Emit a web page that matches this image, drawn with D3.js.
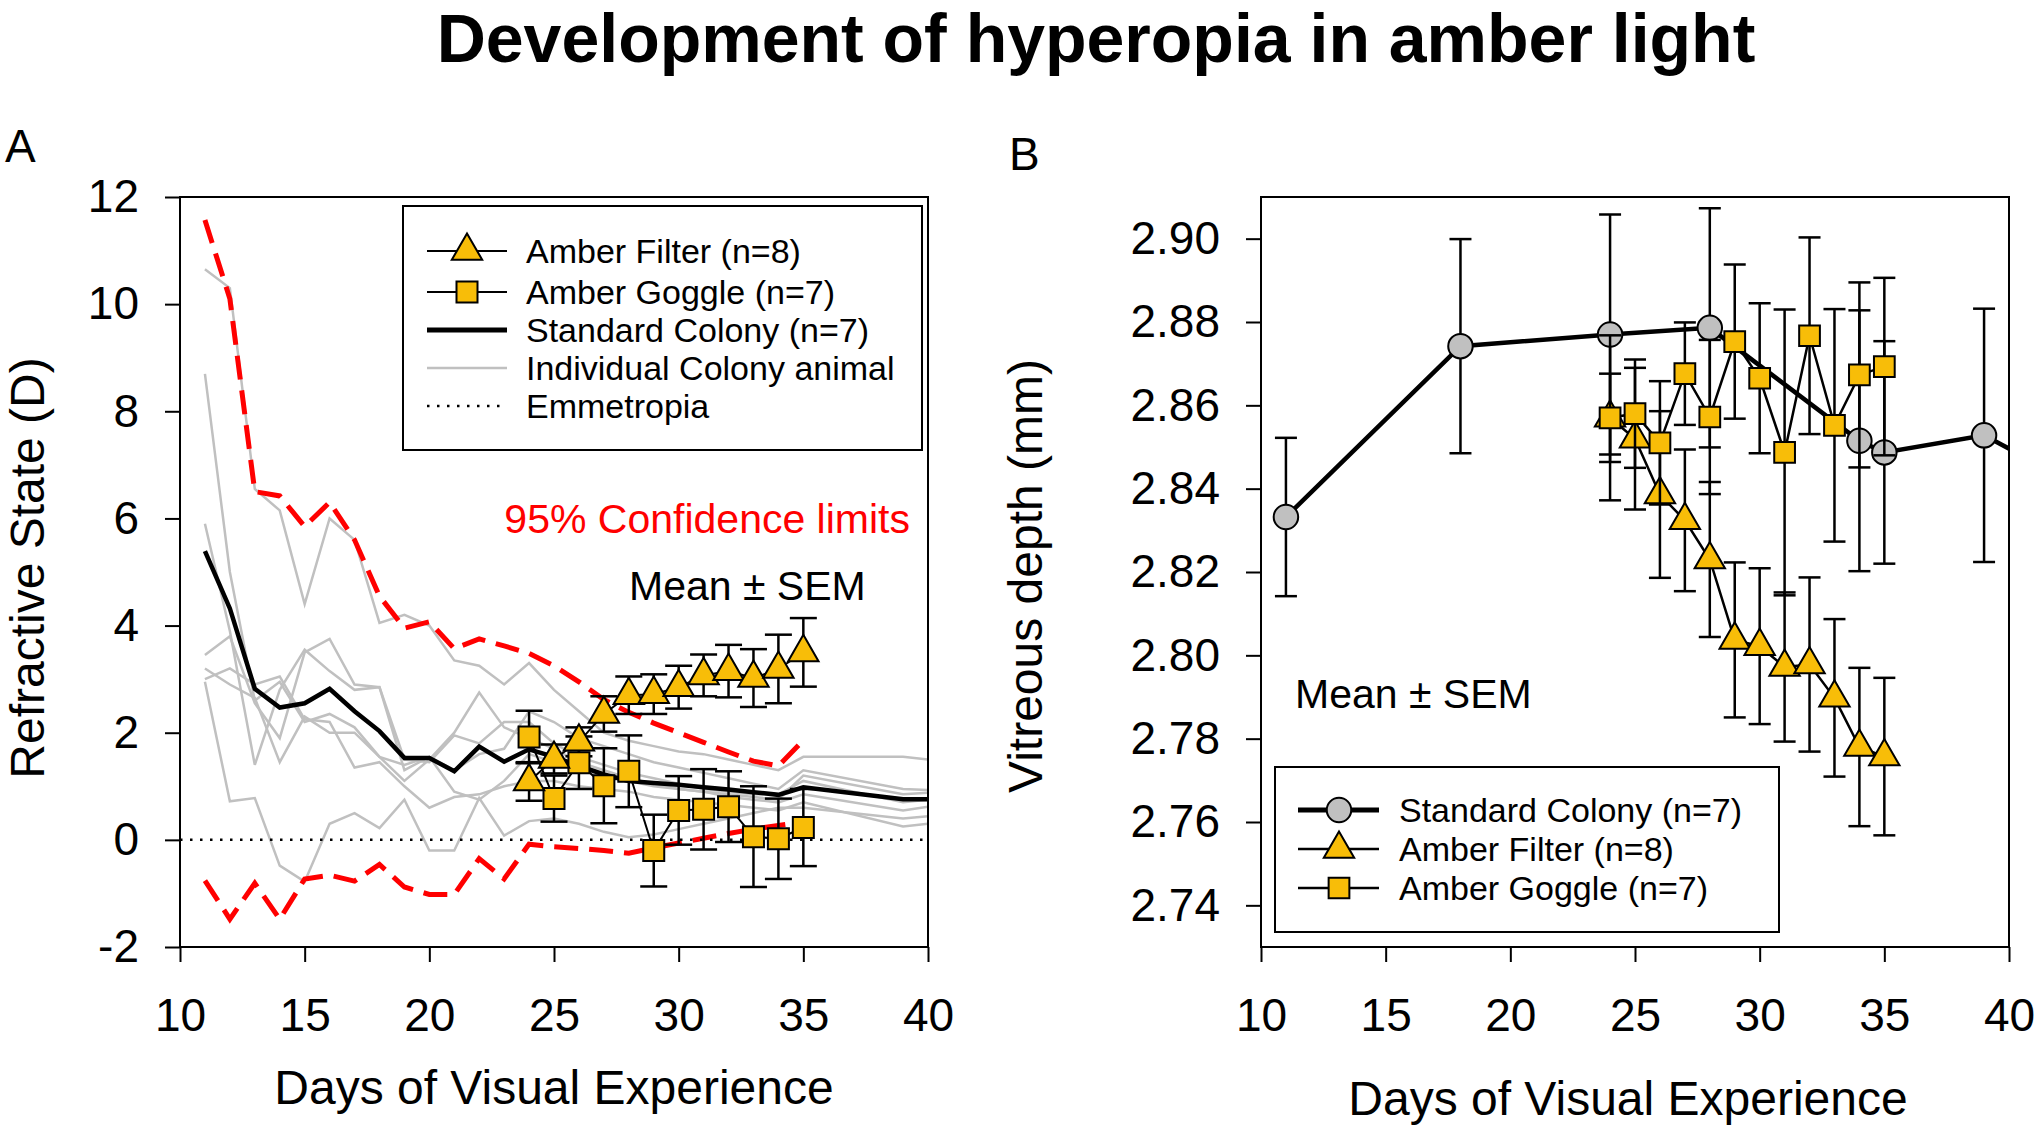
<!DOCTYPE html>
<html><head><meta charset="utf-8">
<script src="https://cdn.jsdelivr.net/npm/d3@7"></script>
<style>
html,body{margin:0;padding:0;background:#fff;}
svg{display:block;font-family:"Liberation Sans",Arial,Helvetica,sans-serif;}
</style></head><body>
<svg id="chart" width="2040" height="1129"></svg>
<script>
// ---------------- DATA ----------------
const titleText = "Development of hyperopia in amber light";
const xTicks = [10, 15, 20, 25, 30, 35, 40];
const yTicksA = [-2, 0, 2, 4, 6, 8, 10, 12];
const yTicksB = [2.74, 2.76, 2.78, 2.80, 2.82, 2.84, 2.86, 2.88, 2.90];

// Panel A: refractive state (D)
const colonyDaysA = [11,12,13,14,15,16,17,18,19,20,21,22,23,24,25,26,27,28,29,30,31,32,33,34,35,39,40];
const colonyMeanA = [5.39,4.32,2.82,2.47,2.55,2.82,2.40,2.03,1.53,1.53,1.28,1.74,1.46,1.69,1.55,1.38,1.22,1.10,1.06,1.03,0.98,0.94,0.89,0.84,0.98,0.76,0.76];
const animal1 = [10.65,10.30,6.55,6.15,4.40,6.00,5.60,4.05,4.20,4.00,3.35,3.25,2.90,3.30,2.80,2.40,2.00,1.85,1.75,1.65,1.60,1.50,1.40,1.30,1.55,1.55,1.50];
const animal2 = [8.70,5.00,2.60,2.95,2.20,2.35,2.10,1.55,1.40,1.55,1.30,1.60,1.70,2.40,2.20,1.90,1.75,1.60,1.45,1.35,1.25,1.15,1.05,0.95,1.30,0.95,0.93];
const animal3 = [5.90,3.90,1.40,2.80,3.55,3.15,2.80,2.85,1.30,1.55,0.90,0.75,1.10,1.60,1.45,1.30,1.20,1.10,1.00,0.95,0.90,0.85,0.80,0.75,1.20,0.85,0.88];
const animal4 = [3.45,3.80,2.55,1.90,3.50,3.75,2.90,2.85,1.50,1.45,1.95,1.80,2.20,2.20,1.80,1.55,1.40,1.25,1.15,1.05,0.95,0.90,0.85,0.85,1.10,0.70,0.75];
const animal5 = [3.20,2.90,2.65,1.45,2.30,2.00,2.00,1.55,1.10,1.50,2.00,2.75,2.10,1.90,1.70,1.45,1.30,1.15,1.05,0.95,0.90,0.80,0.75,0.70,0.85,0.55,0.62];
const animal6 = [2.95,0.72,0.78,-0.48,-0.78,0.30,0.50,0.22,0.75,-0.20,-0.20,0.78,0.08,0.35,0.40,0.30,0.15,0.05,0.10,0.20,0.30,0.40,0.50,0.60,0.60,0.40,0.44];
const animal7 = [3.00,3.20,2.90,3.05,2.25,2.20,1.35,1.45,1.00,0.60,0.80,0.85,1.00,1.10,1.10,1.00,0.95,0.90,0.80,0.75,0.70,0.65,0.60,0.55,0.70,0.25,0.30];

const limitDays = [11,12,13,14,15,16,17,18,19,20,21,22,23,24,25,26,27,28,29,30,31,32,33,34,35];
const upperLimit = [11.57,10.10,6.50,6.42,5.85,6.30,5.60,4.55,3.95,4.07,3.57,3.75,3.62,3.48,3.25,2.95,2.62,2.38,2.18,2.00,1.82,1.64,1.47,1.38,1.86];
const lowerLimit = [-0.76,-1.48,-0.81,-1.48,-0.73,-0.66,-0.77,-0.46,-0.88,-1.02,-1.02,-0.35,-0.73,-0.08,-0.13,-0.16,-0.20,-0.25,-0.15,-0.06,0.03,0.12,0.20,0.27,0.33];

const amberDays = [24,25,26,27,28,29,30,31,32,33,34,35];
const filterMeanA = [1.09,1.51,1.83,2.35,2.70,2.72,2.85,3.07,3.15,3.02,3.19,3.50];
const filterSemA  = [0.36,0.27,0.27,0.33,0.35,0.37,0.40,0.39,0.49,0.54,0.64,0.64];
const goggleMeanA = [1.92,0.77,1.44,1.01,1.28,-0.20,0.55,0.57,0.62,0.06,0.02,0.23];
const goggleSemA  = [0.49,0.43,0.49,0.70,0.67,0.67,0.64,0.75,0.66,0.94,0.75,0.72];

// Panel B: vitreous depth (mm)
const colonyDaysB = [11,18,24,28,34,35,39,41];
const colonyMeanB = [2.8332,2.8742,2.8770,2.8786,2.8515,2.8487,2.8528,2.8464];
const colonySemB  = [0.0190,0.0257,0.0288,0.0287,0.0313,0.0267,0.0304,0.0300];
const filterMeanB = [2.8570,2.8520,2.8386,2.8324,2.8230,2.8037,2.8022,2.7972,2.7978,2.7898,2.7780,2.7757];
const filterSemB  = [0.0106,0.0170,0.0200,0.0170,0.0186,0.0186,0.0187,0.0179,0.0209,0.0189,0.0190,0.0189];
const goggleMeanB = [2.8570,2.8580,2.8510,2.8676,2.8572,2.8753,2.8665,2.8487,2.8767,2.8552,2.8673,2.8693];
const goggleSemB  = [0.0198,0.0130,0.0148,0.0123,0.0185,0.0185,0.0180,0.0343,0.0236,0.0279,0.0222,0.0213];

const legendA = ["Amber Filter (n=8)","Amber Goggle (n=7)","Standard Colony (n=7)","Individual Colony animal","Emmetropia"];
const legendB = ["Standard Colony (n=7)","Amber Filter (n=8)","Amber Goggle (n=7)"];

// ---------------- DRAWING ----------------
const AMBER = "#f8bd08", GREY_FILL = "#c0c0c0", GREY_LINE = "#c0c0c0", RED = "#ff0000";
const svg = d3.select("#chart");
svg.append("rect").attr("width",2040).attr("height",1129).attr("fill","#fff");

const xA = d3.scaleLinear().domain([10,40]).range([180,928]);
const yA = d3.scaleLinear().domain([-2,12]).range([947,197]);
const xB = d3.scaleLinear().domain([10,40]).range([1261,2009]);
const yB = d3.scaleLinear().domain([2.73,2.91]).range([947,197]);

const defs = svg.append("defs");
function clip(id, x, y){
  defs.append("clipPath").attr("id",id).append("rect")
    .attr("x",x.range()[0]).attr("y",y.range()[1])
    .attr("width",x.range()[1]-x.range()[0]).attr("height",y.range()[0]-y.range()[1]);
}
clip("clipA", xA, yA); clip("clipB", xB, yB);

// Title
svg.append("text").attr("x",1096).attr("y",62).attr("text-anchor","middle")
  .attr("font-size",68).attr("font-weight","bold").text(titleText);
svg.append("text").attr("x",5).attr("y",162).attr("font-size",46).text("A");
svg.append("text").attr("x",1009).attr("y",170).attr("font-size",46).text("B");

const plainNum = d => (d < 0 ? "-" + Math.abs(d) : String(d));

function axes(x, y, yTicks, fmt){
  const gx = svg.append("g").attr("transform",`translate(0,${y.range()[0]})`)
    .call(d3.axisBottom(x).tickValues(xTicks).tickFormat(plainNum).tickSize(15).tickSizeOuter(0).tickPadding(36));
  const gy = svg.append("g").attr("transform",`translate(${x.range()[0]},0)`)
    .call(d3.axisLeft(y).tickValues(yTicks).tickFormat(fmt).tickSize(15).tickSizeOuter(0).tickPadding(26));
  [gx, gy].forEach(g => {
    g.select(".domain").remove();
    g.selectAll("line").attr("stroke","#000").attr("stroke-width",2);
    g.selectAll("text").attr("font-size",46).attr("fill","#000")
      .attr("font-family",'"Liberation Sans",Arial,sans-serif');
  });
  svg.append("rect").attr("x",x.range()[0]).attr("y",y.range()[1])
    .attr("width",x.range()[1]-x.range()[0]).attr("height",y.range()[0]-y.range()[1])
    .attr("fill","none").attr("stroke","#000").attr("stroke-width",2);
}

function errorBars(g, x, y, days, mean, sem, cap){
  days.forEach((d,i) => {
    const cx = x(d), y1 = y(mean[i]-sem[i]), y2 = y(mean[i]+sem[i]);
    g.append("line").attr("x1",cx).attr("x2",cx).attr("y1",y1).attr("y2",y2)
      .attr("stroke","#000").attr("stroke-width",2.5);
    [y1,y2].forEach(yy => g.append("line").attr("x1",cx-cap/2).attr("x2",cx+cap/2)
      .attr("y1",yy).attr("y2",yy).attr("stroke","#000").attr("stroke-width",2.5));
  });
}
function series(g, x, y, days, vals, width, color, dash){
  const line = d3.line().x((d,i)=>x(days[i])).y(d=>y(d));
  const p = g.append("path").attr("d",line(vals)).attr("fill","none")
    .attr("stroke",color).attr("stroke-width",width).attr("stroke-linejoin","miter");
  if (dash) p.attr("stroke-dasharray",dash);
  return p;
}
function markers(g, x, y, days, vals, type, size, fill){
  const sym = d3.symbol().type(type).size(size);
  days.forEach((d,i) => g.append("path").attr("d",sym())
    .attr("transform",`translate(${x(d)},${y(vals[i])})`)
    .attr("fill",fill).attr("stroke","#000").attr("stroke-width",2));
}

// ===== Panel A =====
const gA = svg.append("g").attr("clip-path","url(#clipA)");
[animal1,animal2,animal3,animal4,animal5,animal6,animal7].forEach(a =>
  series(gA, xA, yA, colonyDaysA, a, 2.5, GREY_LINE));
series(gA, xA, yA, limitDays, upperLimit, 5, RED, "24,11");
series(gA, xA, yA, limitDays, lowerLimit, 5, RED, "24,11");
gA.append("line").attr("x1",xA(10)).attr("x2",xA(40)).attr("y1",yA(0)).attr("y2",yA(0))
  .attr("stroke","#000").attr("stroke-width",2.5).attr("stroke-dasharray","2.5,7.5");
series(gA, xA, yA, colonyDaysA, colonyMeanA, 4.5, "#000");
errorBars(gA, xA, yA, amberDays, goggleMeanA, goggleSemA, 27);
errorBars(gA, xA, yA, amberDays, filterMeanA, filterSemA, 27);
series(gA, xA, yA, amberDays, goggleMeanA, 2, "#000");
series(gA, xA, yA, amberDays, filterMeanA, 2, "#000");
markers(gA, xA, yA, amberDays, goggleMeanA, d3.symbolSquare, 441, AMBER);
markers(gA, xA, yA, amberDays, filterMeanA, d3.symbolTriangle, 400, AMBER);
axes(xA, yA, yTicksA, plainNum);

// legend A
svg.append("rect").attr("x",403).attr("y",206).attr("width",519).attr("height",244)
  .attr("fill","#fff").attr("stroke","#000").attr("stroke-width",2);
const rowsA = [251, 292, 330, 368, 406];
const legStyleA = [
  {w:2, c:"#000", sym:d3.symbolTriangle, size:400},
  {w:2, c:"#000", sym:d3.symbolSquare, size:441},
  {w:5, c:"#000"},
  {w:2.5, c:GREY_LINE},
  {w:2.5, c:"#000", dash:"2.5,7.5"}];
legendA.forEach((t,i) => {
  const s = legStyleA[i], yy = rowsA[i];
  const l = svg.append("line").attr("x1",427).attr("x2",507).attr("y1",yy).attr("y2",yy)
    .attr("stroke",s.c).attr("stroke-width",s.w);
  if (s.dash) l.attr("stroke-dasharray",s.dash);
  if (s.sym) svg.append("path").attr("d",d3.symbol().type(s.sym).size(s.size)())
    .attr("transform",`translate(467,${yy})`).attr("fill",AMBER).attr("stroke","#000").attr("stroke-width",2);
  svg.append("text").attr("x",526).attr("y",yy+12).attr("font-size",34).text(t);
});
svg.append("text").attr("x",910).attr("y",533).attr("text-anchor","end")
  .attr("font-size",41).attr("fill",RED).text("95% Confidence limits");
svg.append("text").attr("x",629).attr("y",600).attr("font-size",41).text("Mean \u00b1 SEM");

// axis titles A
svg.append("text").attr("x",554).attr("y",1104).attr("text-anchor","middle")
  .attr("font-size",48).text("Days of Visual Experience");
svg.append("text").attr("transform","translate(44,568) rotate(-90)").attr("text-anchor","middle")
  .attr("font-size",48).text("Refractive State (D)");

// ===== Panel B =====
const gB = svg.append("g").attr("clip-path","url(#clipB)");
errorBars(gB, xB, yB, colonyDaysB, colonyMeanB, colonySemB, 22);
series(gB, xB, yB, colonyDaysB, colonyMeanB, 4.5, "#000");
markers(gB, xB, yB, colonyDaysB, colonyMeanB, d3.symbolCircle, 471, GREY_FILL);
errorBars(gB, xB, yB, amberDays, filterMeanB, filterSemB, 22);
series(gB, xB, yB, amberDays, filterMeanB, 2.5, "#000");
markers(gB, xB, yB, amberDays, filterMeanB, d3.symbolTriangle, 400, AMBER);
errorBars(gB, xB, yB, amberDays, goggleMeanB, goggleSemB, 22);
series(gB, xB, yB, amberDays, goggleMeanB, 2.5, "#000");
markers(gB, xB, yB, amberDays, goggleMeanB, d3.symbolSquare, 430, AMBER);
axes(xB, yB, yTicksB, d3.format(".2f"));

// legend B
svg.append("rect").attr("x",1275).attr("y",767).attr("width",504).attr("height",165)
  .attr("fill","#fff").attr("stroke","#000").attr("stroke-width",2);
const rowsB = [810, 849, 888];
const legStyleB = [
  {w:5, sym:d3.symbolCircle, size:471, fill:GREY_FILL},
  {w:2.5, sym:d3.symbolTriangle, size:400, fill:AMBER},
  {w:2.5, sym:d3.symbolSquare, size:430, fill:AMBER}];
legendB.forEach((t,i) => {
  const s = legStyleB[i], yy = rowsB[i];
  svg.append("line").attr("x1",1298).attr("x2",1379).attr("y1",yy).attr("y2",yy)
    .attr("stroke","#000").attr("stroke-width",s.w);
  svg.append("path").attr("d",d3.symbol().type(s.sym).size(s.size)())
    .attr("transform",`translate(1339,${yy})`).attr("fill",s.fill).attr("stroke","#000").attr("stroke-width",2);
  svg.append("text").attr("x",1399).attr("y",yy+12).attr("font-size",34).text(t);
});
svg.append("text").attr("x",1295).attr("y",708).attr("font-size",41).text("Mean \u00b1 SEM");

svg.append("text").attr("x",1628).attr("y",1115).attr("text-anchor","middle")
  .attr("font-size",48).text("Days of Visual Experience");
svg.append("text").attr("transform","translate(1042,576) rotate(-90)").attr("text-anchor","middle")
  .attr("font-size",48).text("Vitreous depth (mm)");
</script>
</body></html>
